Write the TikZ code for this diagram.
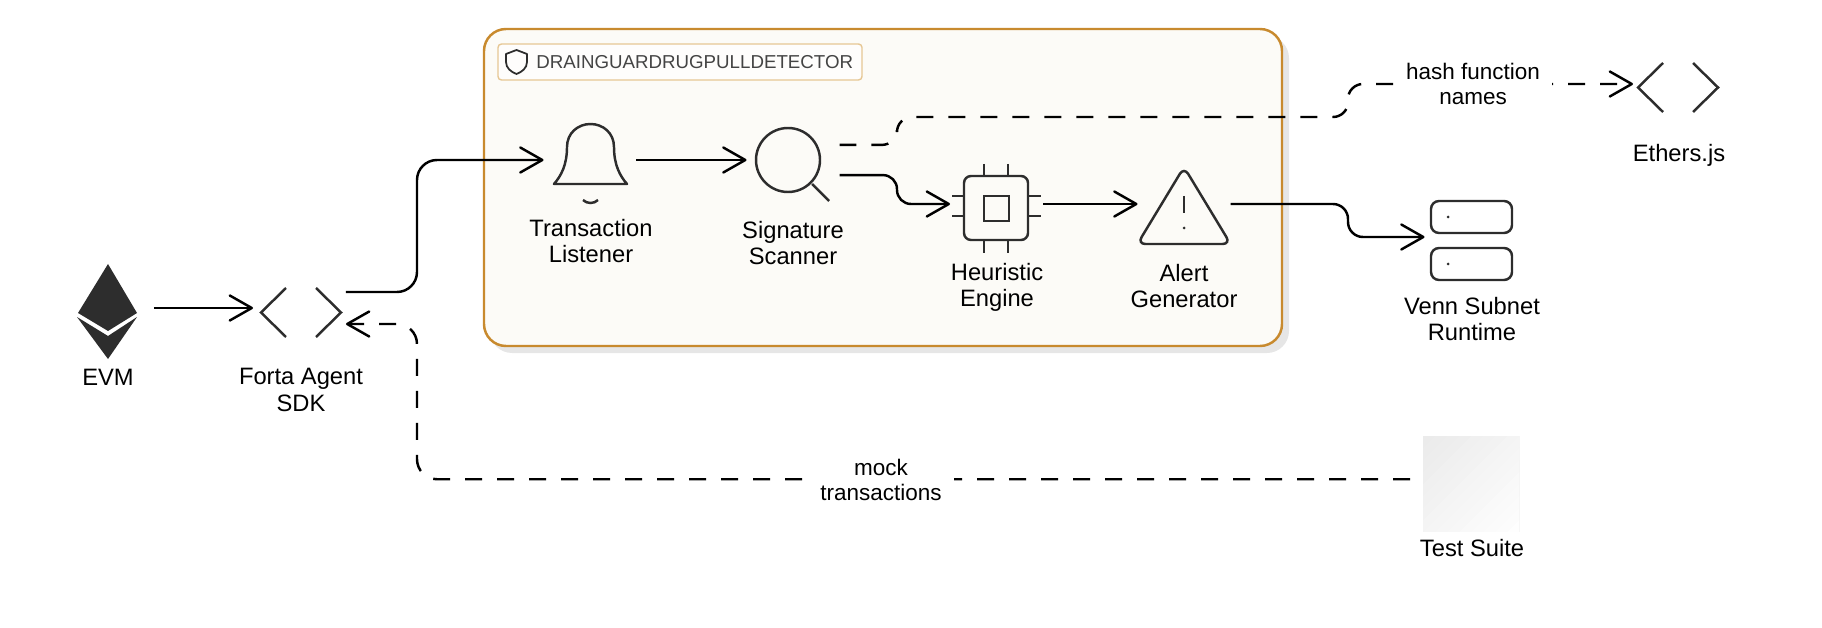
\documentclass[tikz,border=0pt]{standalone}
\usepackage{fontspec}
\setmainfont{Liberation Sans}
\usetikzlibrary{arrows.meta}

\definecolor{icongrey}{HTML}{2D2D2D}
\definecolor{groupedge}{HTML}{C88A2E}
\definecolor{groupfill}{HTML}{FCFBF7}
\definecolor{groupshadow}{HTML}{E6E6E6}
\definecolor{tagedge}{HTML}{E6C794}
\definecolor{tagtext}{HTML}{444444}

\tikzset{
    iconbox/.style={inner sep=0, outer sep=0, minimum width=1.86cm, minimum height=1.6cm},
    caption/.style={align=center, font=\fontsize{13.5}{15.2}\selectfont},
    edgelabel/.style={align=center, font=\fontsize{12.8}{14.2}\selectfont, fill=white, inner xsep=0.24cm, inner ysep=0.02cm},
    flow/.style={line width=1.4pt, -{Straight Barb[length=0.44cm, width=0.5cm, round]}},
    dashedflow/.style={flow, dash pattern=on 0.34cm off 0.30cm},
    icon/.style={draw=icongrey, line width=1.4pt},
    codeicon/.pic={
        \draw[icon] (-15,-24.5) -- (-40,0) -- (-15,24.5);
        \draw[icon] (15,-24.5) -- (40,0) -- (15,24.5);
    }
}

\begin{document}
\begin{tikzpicture}[x=0.02cm, y=-0.02cm]
    \useasboundingbox (0,0) rectangle (1822,628);

    % Group box
    \fill[groupshadow, rounded corners=0.44cm] (490,36) rectangle (1289,353);
    \draw[draw=groupedge, fill=groupfill, line width=1.4pt, rounded corners=0.44cm] (484,29) rectangle (1282,346);
    \draw[draw=tagedge, fill=groupfill!40!white, line width=0.8pt, rounded corners=0.07cm] (498,44) rectangle (862,80);
    \draw[draw=icongrey, line width=1pt, line join=round] (516.5,50) -- (527,54) -- (527,62) .. controls (527,68) and (522,72) .. (516.5,74) .. controls (511,72) and (506,68) .. (506,62) -- (506,54) -- cycle;
    \node (grouptitle) at (536,62) [anchor=west, inner sep=0, text=tagtext, font=\fontsize{10.65}{13}\selectfont] {DRAINGUARDRUGPULLDETECTOR};

    % Test suite tile, light towards the lower right
    \begin{scope}
        \clip (1423,436) rectangle (1519,531);
        \foreach \k [evaluate=\k as \cut using \k*12, evaluate=\k as \tone using 8-\k*0.5] in {0,...,15}
            \fill[black!\tone] (1423+\cut,436) -- (1723,436) -- (1723,736) -- (1423,736) -- (1423,436+\cut) -- cycle;
    \end{scope}

    % Anchors for the connectors
    \node[iconbox] (evm) at (107.5,308) {};
    \node[iconbox] (forta) at (299.5,308) {};
    \node[iconbox] (listener) at (590,160) {};
    \node[iconbox] (scanner) at (793,160) {};
    \node[iconbox] (engine) at (996.5,204) {};
    \node[iconbox] (alert) at (1184,204) {};
    \node[iconbox] (venn) at (1471,237) {};
    \node[iconbox] (ethers) at (1679.5,84) {};
    \node (testsuite) at (1471,483.5) [inner sep=0, outer xsep=0.26cm, minimum width=1.92cm, minimum height=1.9cm] {};

    \coordinate (fortabend) at (417,160);
    \coordinate (mockbend) at (417,324);
    \coordinate (enginebend) at (897,204);
    \coordinate (hashbendA) at (897,117);
    \coordinate (hashbendB) at (1348,117);
    \coordinate (vennbend) at (1348,237);

    % Connectors
    \draw[flow] (evm.east) -- (forta.west);
    \draw[flow, rounded corners=0.4cm] (forta.19) -| (fortabend) -- (listener.west);
    \draw[flow] (listener.east) -- (scanner.west);
    \draw[flow, rounded corners=0.28cm] (scanner.-18.4) -| (enginebend) -- (engine.west);
    \draw[flow] (engine.east) -- (alert.west);
    \draw[flow, rounded corners=0.3cm] (alert.east) -| (vennbend) -- (venn.west);
    \draw[dashedflow, rounded corners=0.3cm] (scanner.18.4) -| (hashbendA) -- (hashbendB) |- (ethers.west);
    \draw[dashedflow, rounded corners=0.4cm] (testsuite.176) -| (mockbend) -- (forta.-19);

    % Edge labels
    \node[edgelabel] (hashlabel) at (1473,84) {hash function\\names};
    \node[edgelabel] (mocklabel) at (881,480) {mock\\transactions};

    % Ethereum mark
    \fill[icongrey] (108,264) -- (137,313) -- (108,331) -- (78,313) -- cycle;
    \fill[icongrey] (77,317) -- (108,336) -- (137,317) -- (108,359) -- cycle;

    % Code brackets
    \pic at (301,312.5) {codeicon};
    \pic at (1678,87.5) {codeicon};

    % Bell
    \draw[icon, line join=round] (567,147) .. controls (567,133) and (578,124) .. (590.5,124) .. controls (603,124) and (614,133) .. (614,147) .. controls (614,165) and (620,176) .. (627,184) -- (554,184) .. controls (561,176) and (567,165) .. (567,147) -- cycle;
    \draw[icon] (583,200) .. controls (587,204) and (594,204) .. (598,200);

    % Magnifier
    \draw[icon] (788,160) circle (32);
    \draw[icon] (812,184) -- (829,201);

    % Chip
    \draw[icon, rounded corners=0.14cm] (964,176) rectangle (1028,240);
    \draw[icon] (984,196) rectangle (1009,221);
    \foreach \x in {984,1008}
        \draw[icon] (\x,164) -- (\x,176) (\x,240) -- (\x,253);
    \foreach \y in {196,216}
        \draw[icon] (952,\y) -- (964,\y) (1028,\y) -- (1041,\y);

    % Warning triangle
    \draw[icon, rounded corners=0.16cm] (1184,167) -- (1230.6,244) -- (1137.4,244) -- cycle;
    \draw[icon] (1184,196) -- (1184,213);
    \fill[icongrey] (1184,228) circle (1.5);

    % Server
    \foreach \y in {201,248}{
        \draw[icon, rounded corners=0.16cm] (1431,\y) rectangle (1512,\y+32);
        \fill[icongrey] (1448,\y+16) circle (1.5);
    }

    % Captions
    \node[caption] (evmtext) at (108,377) {EVM};
    \node[caption] (fortatext) at (301,390) {Forta Agent\\SDK};
    \node[caption] (listenertext) at (591,241) {Transaction\\Listener};
    \node[caption] (scannertext) at (793,243) {Signature\\Scanner};
    \node[caption] (enginetext) at (997,287.5) {Heuristic\\Engine};
    \node[caption] (alerttext) at (1184,286) {Alert\\Generator};
    \node[caption] (venntext) at (1472,319) {Venn Subnet\\Runtime};
    \node[caption] (etherstext) at (1679,155) {Ethers.js};
    \node[caption] (testtext) at (1472,548) {Test Suite};
\end{tikzpicture}
\end{document}
